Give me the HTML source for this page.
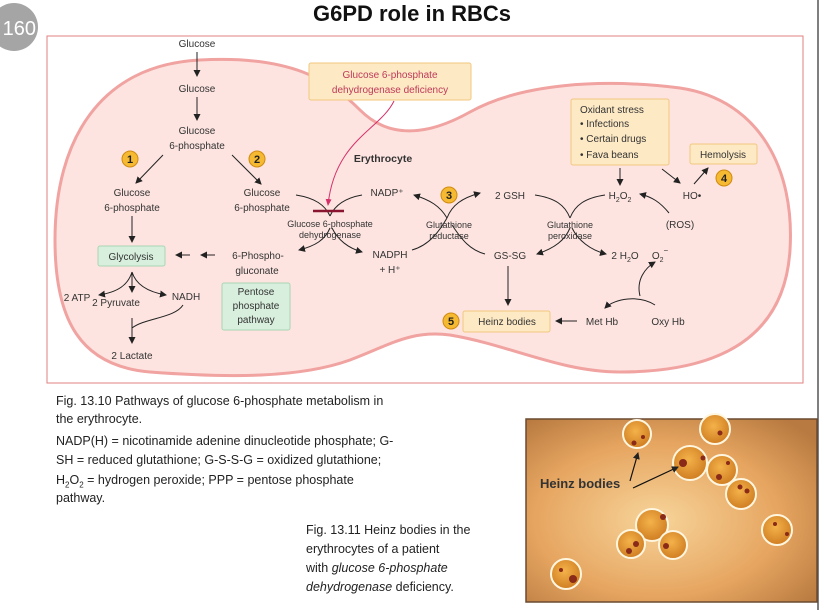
<!DOCTYPE html>
<html><head><meta charset="utf-8"><style>
html,body{margin:0;padding:0;background:#fff;}
body{width:824px;height:610px;overflow:hidden;position:relative;font-family:"Liberation Sans",sans-serif;}
svg text{font-family:"Liberation Sans",sans-serif;}
.cl{position:absolute;font-family:"Liberation Sans",sans-serif;font-size:12.5px;color:#222;white-space:nowrap;line-height:15px;}
</style></head><body>
<svg width="824" height="610" viewBox="0 0 824 610" style="position:absolute;left:0;top:0">
<defs>
<marker id="ah" markerWidth="8" markerHeight="8" refX="6" refY="4" orient="auto" markerUnits="userSpaceOnUse"><path d="M0,0.5 L7,4 L0,7.5 Z" fill="#222"/></marker>
<marker id="ahp" markerWidth="8" markerHeight="8" refX="6" refY="4" orient="auto" markerUnits="userSpaceOnUse"><path d="M0,1 L7,4 L0,7 Z" fill="#d6306a"/></marker>
<radialGradient id="bg" cx="0.45" cy="0.55" r="0.7"><stop offset="0" stop-color="#f7d49a"/><stop offset="0.6" stop-color="#e6a560"/><stop offset="1" stop-color="#b87a40"/></radialGradient>
<radialGradient id="cell" cx="0.45" cy="0.4" r="0.6"><stop offset="0" stop-color="#f4b24a"/><stop offset="1" stop-color="#d07e22"/></radialGradient>
</defs>
<text x="412" y="21" text-anchor="middle" font-size="22" font-weight="bold" fill="#111">G6PD role in RBCs</text>
<circle cx="14" cy="27" r="24" fill="#a5a5a5"/>
<text x="36" y="35" text-anchor="end" font-size="20" fill="#fff">160</text>
<line x1="818" y1="0" x2="818" y2="610" stroke="#555" stroke-width="1.5"/>
<rect x="47" y="36" width="756" height="347" fill="#fff" stroke="#e08080" stroke-width="1"/>
<path d="M200,60 C290,55 330,80 360,110 C385,135 420,140 470,112 C520,84 600,78 680,88 C760,100 795,170 790,250 C785,330 730,372 620,372 C560,372 510,345 450,335 C410,330 390,345 350,360 C300,378 230,378 150,372 C80,366 55,320 55,240 C55,140 100,65 200,60 Z" fill="#fde4e0" stroke="#f0a3a0" stroke-width="3"/>
<g font-size="10" fill="#333" text-anchor="middle">
<text x="197" y="47">Glucose</text>
<line x1="197" y1="52" x2="197" y2="76" stroke="#222" marker-end="url(#ah)"/>
<text x="197" y="92">Glucose</text>
<line x1="197" y1="97" x2="197" y2="120" stroke="#222" marker-end="url(#ah)"/>
<text x="197" y="134">Glucose</text>
<text x="197" y="149">6-phosphate</text>
<line x1="163" y1="155" x2="136" y2="183" stroke="#222" marker-end="url(#ah)"/>
<line x1="232" y1="155" x2="261" y2="184" stroke="#222" marker-end="url(#ah)"/>
<text x="132" y="196">Glucose</text>
<text x="132" y="211">6-phosphate</text>
<line x1="132" y1="216" x2="132" y2="242" stroke="#222" marker-end="url(#ah)"/>
<rect x="98" y="246" width="67" height="20" rx="2" fill="#d8efdd" stroke="#a9d6b2"/>
<text x="131" y="260">Glycolysis</text>
<line x1="190" y1="255" x2="176" y2="255" stroke="#222" marker-end="url(#ah)"/>
<line x1="215" y1="255" x2="201" y2="255" stroke="#222" marker-end="url(#ah)"/>
<text x="258" y="259">6-Phospho-</text>
<text x="257" y="274">gluconate</text>
<rect x="222" y="283" width="68" height="47" rx="2" fill="#d8efdd" stroke="#a9d6b2"/>
<text x="256" y="295">Pentose</text><text x="256" y="309">phosphate</text><text x="256" y="323">pathway</text>
<text x="262" y="196">Glucose</text>
<text x="262" y="211">6-phosphate</text>
<path d="M296,195 C315,198 325,205 330,216" fill="none" stroke="#222"/>
<path d="M362,195 C345,198 335,205 330,216" fill="none" stroke="#222"/>
<path d="M330,228 C325,240 315,246 299,250" fill="none" stroke="#222" marker-end="url(#ah)"/>
<path d="M332,228 C338,240 348,248 362,252" fill="none" stroke="#222" marker-end="url(#ah)"/>
<line x1="313" y1="211" x2="344" y2="211" stroke="#8a1530" stroke-width="2.5"/>
<path d="M394,101 C380,130 335,140 328,205" fill="none" stroke="#d6306a" marker-end="url(#ahp)"/>
<text x="330" y="227" font-size="9">Glucose 6-phosphate</text>
<text x="330" y="238" font-size="9">dehydrogenase</text>
<text x="387" y="196">NADP⁺</text>
<text x="390" y="258">NADPH</text>
<text x="390" y="273">+ H⁺</text>
<text x="383" y="162" font-weight="bold" font-size="10.5">Erythrocyte</text>
<rect x="309" y="63" width="162" height="37" rx="2" fill="#fde9c4" stroke="#f2c77e"/>
<text x="390" y="78" fill="#c0395a">Glucose 6-phosphate</text>
<text x="390" y="93" fill="#c0395a">dehydrogenase deficiency</text>
<path d="M412,250 C430,245 440,230 447,218" fill="none" stroke="#222"/>
<path d="M447,218 C440,206 430,200 414,195" fill="none" stroke="#222" marker-end="url(#ah)"/>
<path d="M447,218 C452,205 462,198 480,193" fill="none" stroke="#222" marker-end="url(#ah)"/>
<path d="M452,225 C462,240 470,250 485,254" fill="none" stroke="#222"/>
<text x="449" y="228" font-size="9">Glutathione</text><text x="449" y="239" font-size="9">reductase</text>
<text x="510" y="199">2 GSH</text>
<path d="M535,195 C555,198 565,205 570,218" fill="none" stroke="#222"/>
<path d="M605,195 C585,198 575,205 570,218" fill="none" stroke="#222"/>
<path d="M570,228 C565,240 555,248 537,254" fill="none" stroke="#222" marker-end="url(#ah)"/>
<path d="M572,228 C578,240 590,250 606,254" fill="none" stroke="#222" marker-end="url(#ah)"/>
<text x="570" y="228" font-size="9">Glutathione</text><text x="570" y="239" font-size="9">peroxidase</text>
<text x="510" y="259">GS-SG</text>
<line x1="508" y1="266" x2="508" y2="305" stroke="#222" marker-end="url(#ah)"/>
<text x="620" y="199">H<tspan font-size="7" dy="3">2</tspan><tspan dy="-3">O</tspan><tspan font-size="7" dy="3">2</tspan></text>
<text x="625" y="259">2 H<tspan font-size="7" dy="3">2</tspan><tspan dy="-3">O</tspan></text>
<text x="660" y="259">O<tspan font-size="7" dy="3">2</tspan><tspan font-size="8" dy="-9">−</tspan></text>
<text x="680" y="228">(ROS)</text>
<path d="M669,213 C660,202 652,197 640,194" fill="none" stroke="#222" marker-end="url(#ah)"/>
<line x1="620" y1="168" x2="620" y2="185" stroke="#222" marker-end="url(#ah)"/>
<line x1="662" y1="169" x2="680" y2="183" stroke="#222" marker-end="url(#ah)"/>
<text x="692" y="199">HO•</text>
<line x1="694" y1="184" x2="708" y2="168" stroke="#222" marker-end="url(#ah)"/>
<rect x="690" y="144" width="67" height="20" rx="2" fill="#fde9c4" stroke="#f2c77e"/>
<text x="723" y="158">Hemolysis</text>
<rect x="571" y="99" width="98" height="66" rx="2" fill="#fde9c4" stroke="#f2c77e"/>
<g text-anchor="start"><text x="580" y="113">Oxidant stress</text><text x="580" y="127">• Infections</text><text x="580" y="142">• Certain drugs</text><text x="580" y="158">• Fava beans</text></g>
<rect x="463" y="311" width="87" height="21" rx="2" fill="#fde9c4" stroke="#f2c77e"/>
<text x="507" y="325">Heinz bodies</text>
<line x1="577" y1="321" x2="556" y2="321" stroke="#222" marker-end="url(#ah)"/>
<text x="602" y="325">Met Hb</text>
<text x="668" y="325">Oxy Hb</text>
<path d="M655,305 C640,295 615,298 605,308" fill="none" stroke="#222" marker-end="url(#ah)"/>
<path d="M640,296 C636,280 645,268 655,262" fill="none" stroke="#222" marker-end="url(#ah)"/>
<text x="77" y="301">2 ATP</text>
<text x="116" y="306">2 Pyruvate</text>
<text x="186" y="300">NADH</text>
<path d="M132,272 C128,285 118,292 99,295" fill="none" stroke="#222" marker-end="url(#ah)"/>
<line x1="132" y1="272" x2="132" y2="292" stroke="#222" marker-end="url(#ah)"/>
<path d="M132,272 C136,285 148,292 166,295" fill="none" stroke="#222" marker-end="url(#ah)"/>
<path d="M183,305 C175,318 145,318 132,328" fill="none" stroke="#222"/>
<line x1="132" y1="318" x2="132" y2="343" stroke="#222" marker-end="url(#ah)"/>
<text x="132" y="359">2 Lactate</text>
</g>
<g font-size="11" font-weight="bold" text-anchor="middle" fill="#222">
<circle cx="130" cy="159" r="8" fill="#f5b932" stroke="#d08a10"/><text x="130" y="163">1</text>
<circle cx="257" cy="159" r="8" fill="#f5b932" stroke="#d08a10"/><text x="257" y="163">2</text>
<circle cx="449" cy="195" r="8" fill="#f5b932" stroke="#d08a10"/><text x="449" y="199">3</text>
<circle cx="724" cy="178" r="8" fill="#f5b932" stroke="#d08a10"/><text x="724" y="182">4</text>
<circle cx="451" cy="321" r="8" fill="#f5b932" stroke="#d08a10"/><text x="451" y="325">5</text>
</g>
<g>
<rect x="526" y="419" width="291" height="183" fill="url(#bg)" stroke="#6a4a30" stroke-width="1.5"/>
<g stroke="#fff6e0" stroke-width="2" fill="url(#cell)">
<circle cx="637" cy="434" r="14"/><circle cx="715" cy="429" r="15"/><circle cx="690" cy="463" r="17"/><circle cx="722" cy="470" r="15"/><circle cx="741" cy="494" r="15"/><circle cx="652" cy="525" r="16"/><circle cx="631" cy="544" r="14"/><circle cx="673" cy="545" r="14"/><circle cx="777" cy="530" r="15"/><circle cx="566" cy="574" r="15"/>
</g>
<g fill="#8a2a18">
<circle cx="634" cy="443" r="2.5"/><circle cx="643" cy="437" r="2"/><circle cx="720" cy="433" r="2.5"/><circle cx="683" cy="463" r="4"/><circle cx="703" cy="458" r="2.5"/><circle cx="719" cy="477" r="3"/><circle cx="728" cy="463" r="2"/><circle cx="740" cy="487" r="2.5"/><circle cx="747" cy="491" r="2.5"/><circle cx="663" cy="517" r="3"/><circle cx="629" cy="551" r="3"/><circle cx="636" cy="544" r="3"/><circle cx="666" cy="546" r="3"/><circle cx="775" cy="524" r="2"/><circle cx="787" cy="534" r="2"/><circle cx="573" cy="579" r="4"/><circle cx="561" cy="570" r="2"/>
</g>
<text x="540" y="488" font-size="13" font-weight="bold" fill="#333">Heinz bodies</text>
<line x1="630" y1="481" x2="638" y2="453" stroke="#111" stroke-width="1.2" marker-end="url(#ah)"/>
<line x1="633" y1="488" x2="678" y2="467" stroke="#111" stroke-width="1.2" marker-end="url(#ah)"/>
</g>
</svg>
<div>
<div class="cl" style="left:56px;top:394px;">Fig. 13.10 Pathways of glucose 6-phosphate metabolism in</div>
<div class="cl" style="left:56px;top:412px;">the erythrocyte.</div>
<div class="cl" style="left:56px;top:434px;">NADP(H) = nicotinamide adenine dinucleotide phosphate; G-</div>
<div class="cl" style="left:56px;top:453px;">SH = reduced glutathione; G-S-S-G = oxidized glutathione;</div>
<div class="cl" style="left:56px;top:473px;">H<sub style="font-size:8px">2</sub>O<sub style="font-size:8px">2</sub> = hydrogen peroxide; PPP = pentose phosphate</div>
<div class="cl" style="left:56px;top:491px;">pathway.</div>
</div>
<div>
<div class="cl" style="left:306px;top:523px;">Fig. 13.11 Heinz bodies in the</div>
<div class="cl" style="left:306px;top:542px;">erythrocytes of a patient</div>
<div class="cl" style="left:306px;top:561px;">with <i>glucose 6-phosphate</i></div>
<div class="cl" style="left:306px;top:580px;"><i>dehydrogenase</i> deficiency.</div>
</div>
</body></html>
